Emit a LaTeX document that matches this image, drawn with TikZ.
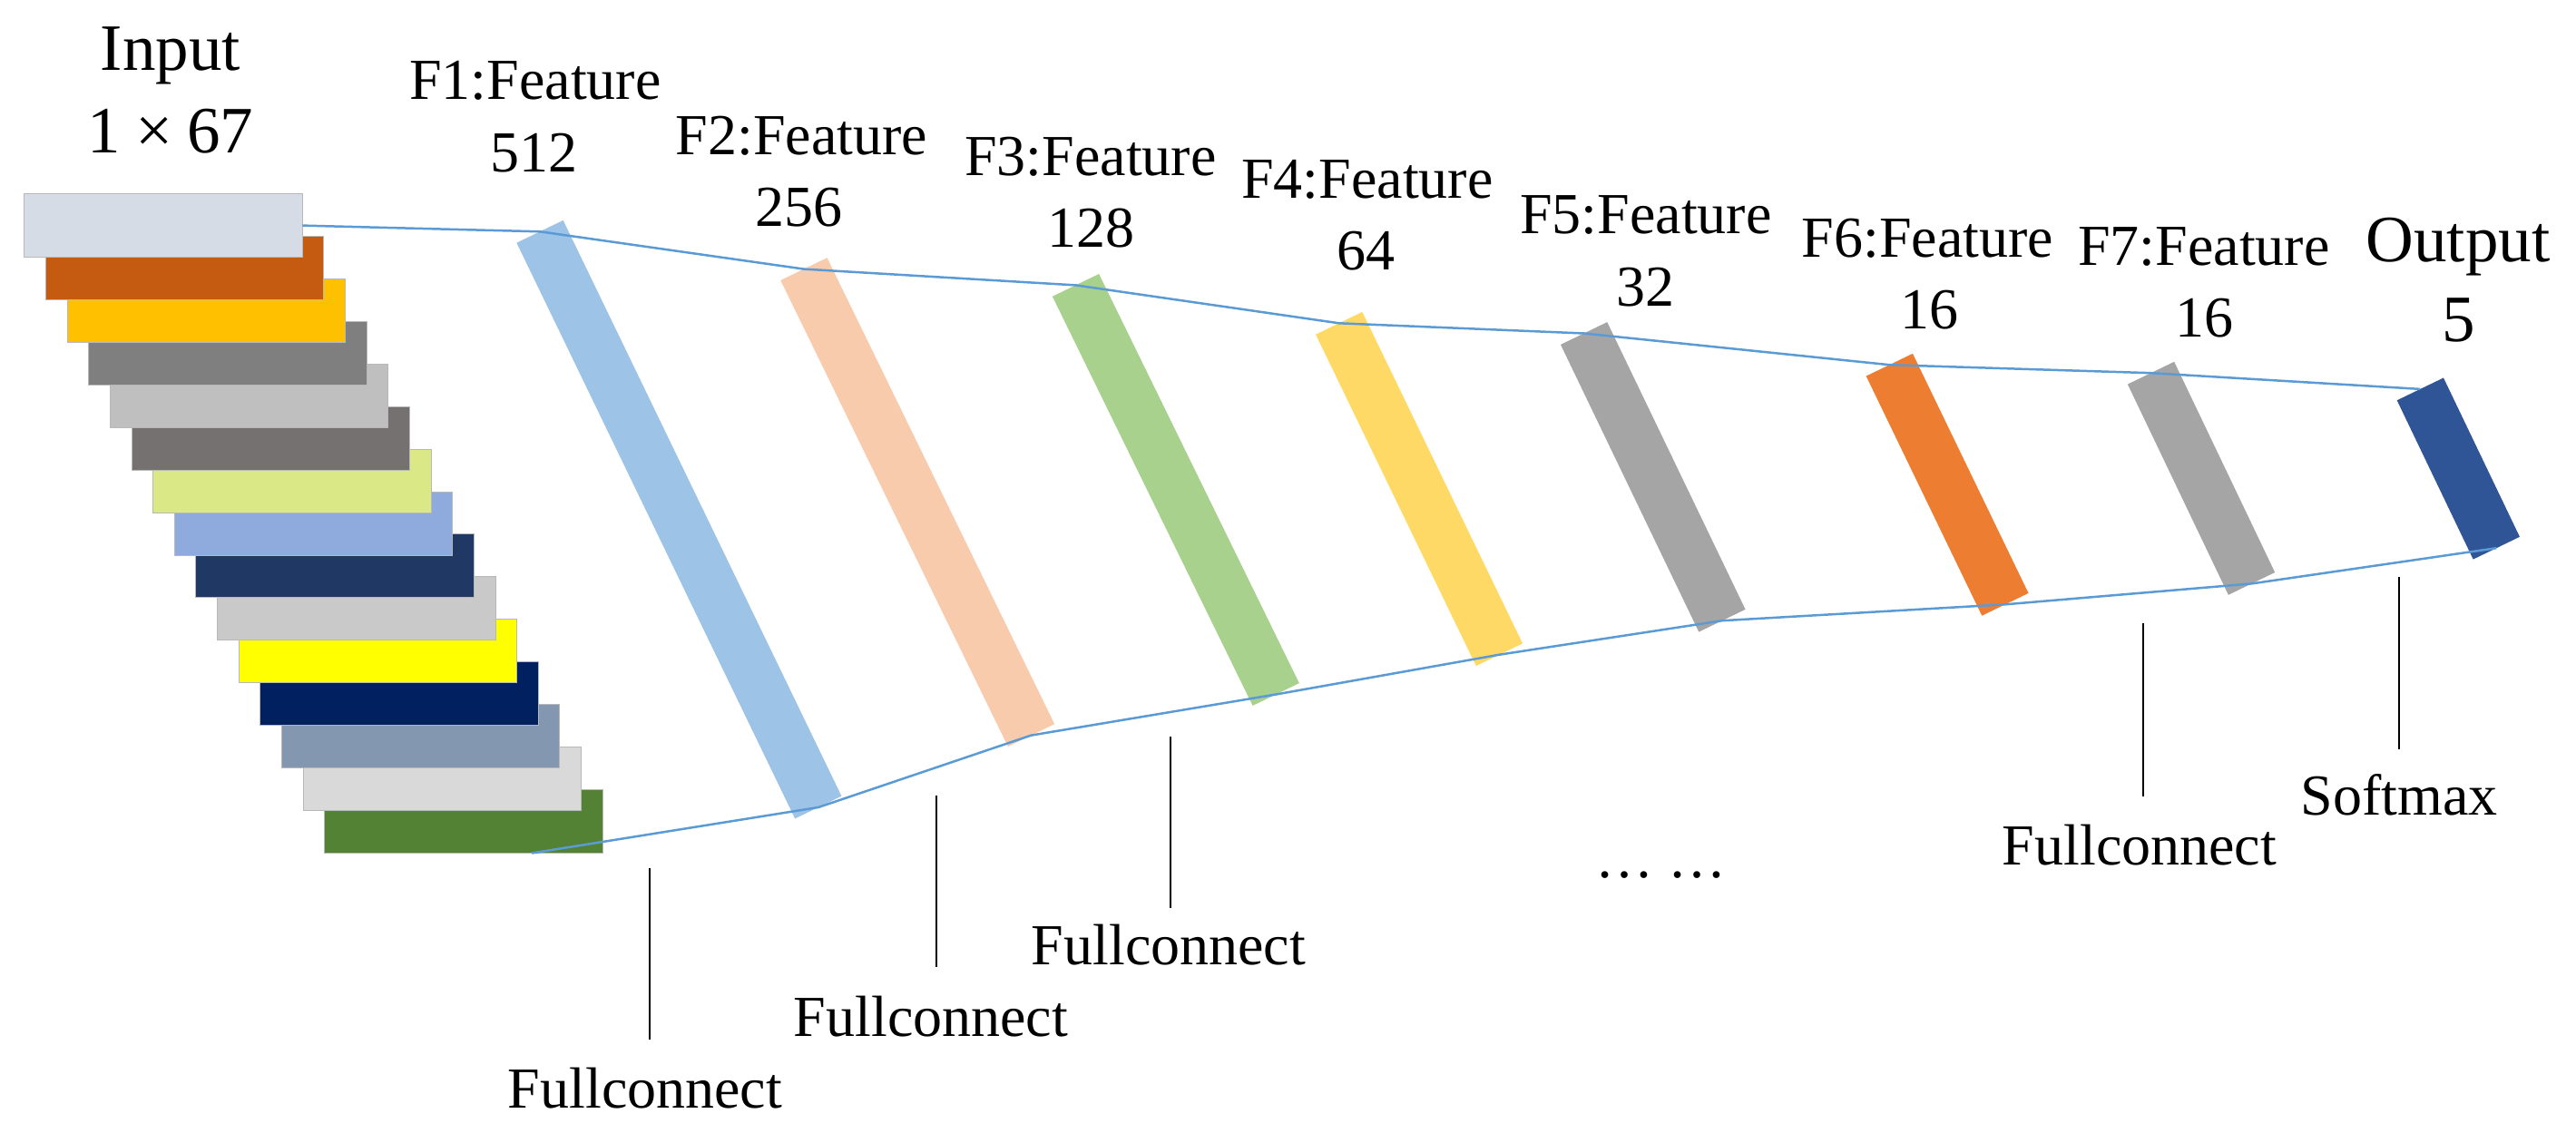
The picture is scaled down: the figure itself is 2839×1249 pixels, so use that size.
\documentclass[tikz,border=0pt]{standalone}
\usepackage{fontspec}
\newfontfamily\tnr{Liberation Serif}
\usetikzlibrary{calc}
\definecolor{ic0}{HTML}{D6DCE5}
\definecolor{ic1}{HTML}{C55A11}
\definecolor{ic2}{HTML}{FFC000}
\definecolor{ic3}{HTML}{7F7F7F}
\definecolor{ic4}{HTML}{BFBFBF}
\definecolor{ic5}{HTML}{767171}
\definecolor{ic6}{HTML}{DAE885}
\definecolor{ic7}{HTML}{8FAADC}
\definecolor{ic8}{HTML}{203864}
\definecolor{ic9}{HTML}{C9C9C9}
\definecolor{ic10}{HTML}{FFFF00}
\definecolor{ic11}{HTML}{002060}
\definecolor{ic12}{HTML}{8497B0}
\definecolor{ic13}{HTML}{D9D9D9}
\definecolor{ic14}{HTML}{548235}
\definecolor{fa}{HTML}{9DC3E6}
\definecolor{fb}{HTML}{F8CBAD}
\definecolor{fc}{HTML}{A9D18E}
\definecolor{fd}{HTML}{FFD966}
\definecolor{fe}{HTML}{A5A5A5}
\definecolor{ff}{HTML}{ED7D31}
\definecolor{fg}{HTML}{A5A5A5}
\definecolor{fo}{HTML}{2F5597}
\definecolor{linkblue}{HTML}{5B9BD5}
\definecolor{rimgray}{HTML}{B8B8B8}
\definecolor{inkblack}{HTML}{000000}
\newcommand\featbar[3]{\fill[#1] ($(#2)+(-25.65,12.4)$) -- ($(#2)+(25.65,-12.4)$) -- ($(#3)+(25.65,-12.4)$) -- ($(#3)+(-25.65,12.4)$) -- cycle;}
\begin{document}
\begin{tikzpicture}[x=1pt,y=-1pt,
  inrect/.style={draw=rimgray, line width=1pt, minimum width=306.5pt, minimum height=70pt, inner sep=0pt, outer sep=0pt, anchor=north west},
  lab/.style={inner sep=0pt, anchor=base, text=inkblack, font=\tnr\fontsize{64}{70}\selectfont},
  biglab/.style={inner sep=0pt, anchor=base, text=inkblack, font=\tnr\fontsize{73}{80}\selectfont},
  conn/.style={draw=linkblue, line width=2.5pt},
  vline/.style={draw=inkblack, line width=1.8pt}]
\useasboundingbox (0,0) rectangle (2839,1249);
% input stack
\foreach \i in {14,13,...,0}{
  \node[inrect, fill=ic\i] (in\i) at ({26.8+23.64*\i},{213.6+46.92*\i}) {};
}
% feature bars
\coordinate (b1t) at (595,255.3);   \coordinate (b1b) at (901.8,890);
\coordinate (b2t) at (885.9,296.6); \coordinate (b2b) at (1136.5,810.6);
\coordinate (b3t) at (1185.5,314.4);\coordinate (b3b) at (1406.2,765.5);
\coordinate (b4t) at (1475.7,356.3);\coordinate (b4b) at (1652.4,721.7);
\coordinate (b5t) at (1745.6,367.5);\coordinate (b5b) at (1897.9,684.2);
\coordinate (b6t) at (2082.3,402.2);\coordinate (b6b) at (2209.9,666.3);
\coordinate (b7t) at (2370.5,411.2);\coordinate (b7b) at (2481.5,643.4);
\coordinate (b8t) at (2667.3,428.9);\coordinate (b8b) at (2751.3,604.2);
\featbar{fa}{b1t}{b1b}
\featbar{fb}{b2t}{b2b}
\featbar{fc}{b3t}{b3b}
\featbar{fd}{b4t}{b4b}
\featbar{fe}{b5t}{b5b}
\featbar{ff}{b6t}{b6b}
\featbar{fg}{b7t}{b7b}
\featbar{fo}{b8t}{b8b}
% outline connectors
\coordinate (gb) at ($(in14.south west)!0.745!(in14.south east)$);
\draw[conn] (in0.east) -- (b1t) -- (b2t) -- (b3t) -- (b4t) -- (b5t) -- (b6t) -- (b7t) -- (b8t);
\draw[conn] (gb) -- (b1b) -- (b2b) -- (b3b) -- (b4b) -- (b5b) -- (b6b) -- (b7b) -- (b8b);
% labels
\node[biglab] (tin) at (188,78) {Input};
\node[biglab] (tin2) at (188,169) {1\makebox[1em][c]{×}67};
\node[lab] (t1) at (590,109.3) {F1:Feature};   \node[lab] (n1) at (588,189.3) {512};
\node[lab] (t2) at (883.4,170.7) {F2:Feature}; \node[lab] (n2) at (880,249.3) {256};
\node[lab] (t3) at (1202,193.3) {F3:Feature};  \node[lab] (n3) at (1202,272.7) {128};
\node[lab] (t4) at (1507,218.3) {F4:Feature};  \node[lab] (n4) at (1505,297.7) {64};
\node[lab] (t5) at (1814,257.3) {F5:Feature};  \node[lab] (n5) at (1813,337.3) {32};
\node[lab] (t6) at (2124.5,283.3) {F6:Feature};\node[lab] (n6) at (2126,362.7) {16};
\node[lab] (t7) at (2429,292.7) {F7:Feature};  \node[lab] (n7) at (2429,371.7) {16};
\node[biglab] (tout) at (2709,288.3) {Output};
\node[biglab] (nout) at (2710,376.7) {5};
\node[lab] (fc1) at (711,1221) {Fullconnect};
\node[lab] (fc2) at (1026,1142) {Fullconnect};
\node[lab] (fc3) at (1288,1063) {Fullconnect};
\node[lab] (fc4) at (2358,953) {Fullconnect};
\node[lab] (sm) at (2644,898) {Softmax};
\node[lab] (dots) at (1830,967) {… …};
% annotation leaders
\coordinate (l1a) at (716,957);  \coordinate (l1b) at (716,1146);
\coordinate (l2a) at (1032,877); \coordinate (l2b) at (1032,1066);
\coordinate (l3a) at (1290,812); \coordinate (l3b) at (1290,1001);
\coordinate (l4a) at (2362,687); \coordinate (l4b) at (2362,878);
\coordinate (l5a) at (2644,636); \coordinate (l5b) at (2644,826);
\draw[vline] (l1a) -- (l1b);
\draw[vline] (l2a) -- (l2b);
\draw[vline] (l3a) -- (l3b);
\draw[vline] (l4a) -- (l4b);
\draw[vline] (l5a) -- (l5b);
\end{tikzpicture}
\end{document}
